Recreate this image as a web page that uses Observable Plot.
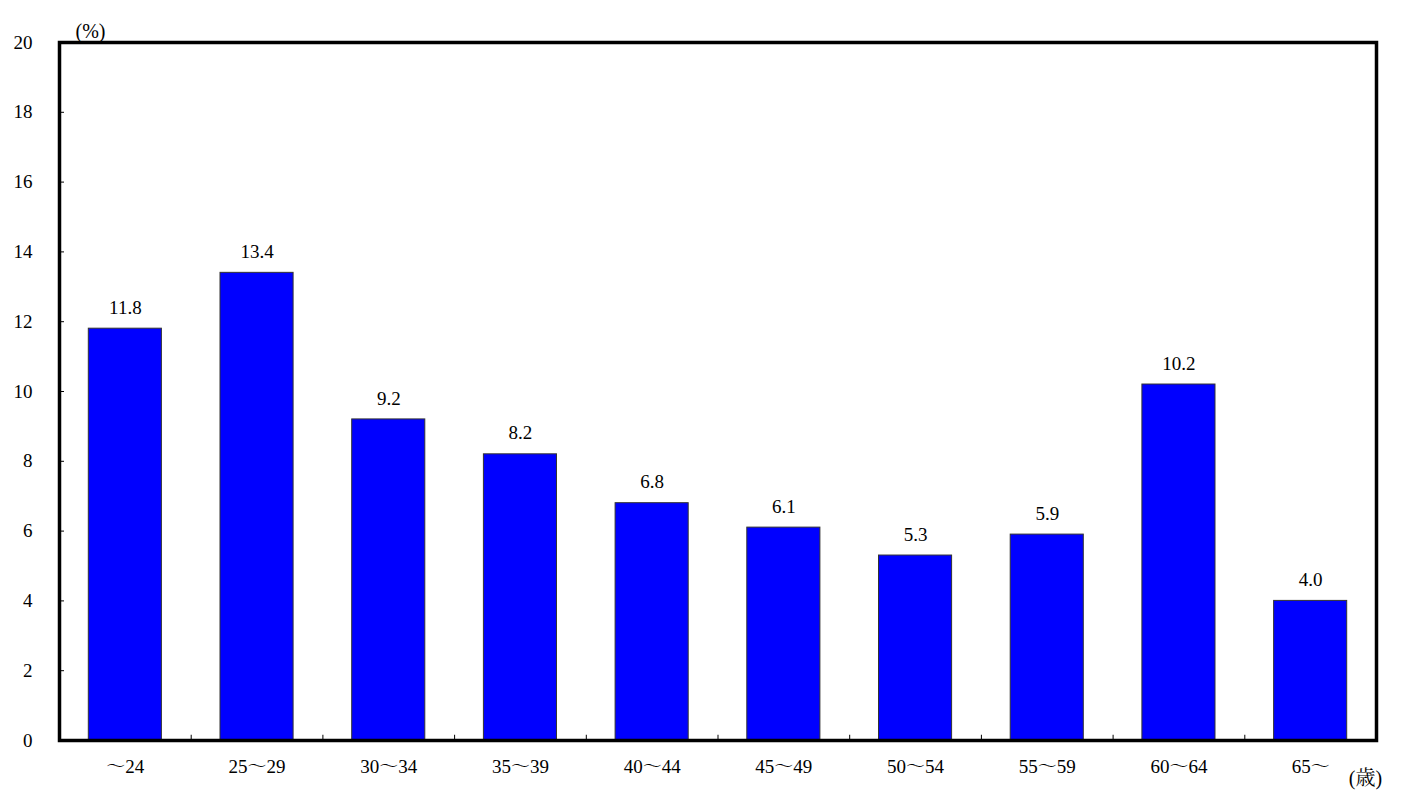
<!DOCTYPE html>
<html>
<head>
<meta charset="utf-8">
<script src="https://cdn.jsdelivr.net/npm/d3@7"></script>
<script src="https://cdn.jsdelivr.net/npm/@observablehq/plot@0.6"></script>
<style>
html,body{margin:0;padding:0;background:#fff;}
</style>
</head>
<body>
<div id="chart"></div>
<script>
const categories = ["〜24","25〜29","30〜34","35〜39","40〜44","45〜49","50〜54","55〜59","60〜64","65〜"];
const values = [11.8,13.4,9.2,8.2,6.8,6.1,5.3,5.9,10.2,4.0];
const yTicks = [0,2,4,6,8,10,12,14,16,18,20];
const yUnit = "(%)";
const xUnit = "(歳)";

const data = categories.map((c,i)=>({cat:c, value:values[i]}));
const W = 1424, H = 802;
const mL = 59, mR = 48, mT = 42, mB = 62;
const step = (W - mL - mR) / categories.length;
const FONT = "Liberation Serif, Noto Serif CJK JP, serif";

const chart = Plot.plot({
  width: W, height: H,
  marginLeft: mL, marginRight: mR, marginTop: mT, marginBottom: mB,
  style: {fontFamily: FONT, fontSize: "18px", color: "#000", background: "#fff"},
  x: {type: "band", domain: categories, paddingInner: 0.445, paddingOuter: 0.2225, round: false, label: null},
  y: {domain: [0,20], ticks: yTicks, label: null},
  marks: [
    Plot.barY(data, {x: "cat", y: "value", fill: "#0000ff", stroke: "#333", strokeWidth: 1}),
    Plot.text(data, {x: "cat", y: "value", text: d => d.value.toFixed(1), dy: -21, fontSize: 19, fontFamily: FONT, letterSpacing: 2, fill: "#000"}),
    Plot.axisY({ticks: yTicks, tickSize: 0, tickPadding: 27, fontSize: 19, fontFamily: FONT, tickFormat: d => String(d)}),
    Plot.axisY({ticks: yTicks, tickSize: -5, text: null, stroke: "#000"}),
    Plot.axisX({tickSize: 0, tickPadding: 19, fontSize: 19, fontFamily: FONT}),
    Plot.ruleX(categories.slice(1), {x: d => d, y1: 0, y2: 0.15, dx: -step/2, stroke: "#000", strokeWidth: 1}),
    Plot.frame({stroke: "#000", strokeWidth: 3.5}),
    Plot.text([yUnit], {frameAnchor: "top-left", text: d => d, textAnchor: "middle", lineAnchor: "middle", dx: 31, dy: -11, fontSize: 20, fontFamily: FONT}),
    Plot.text([xUnit], {frameAnchor: "bottom-right", text: d => d, textAnchor: "middle", lineAnchor: "middle", dx: -11, dy: 38, fontSize: 20, fontFamily: FONT})
  ]
});
chart.setAttribute("font-family", FONT);
chart.querySelectorAll("[font-family]").forEach(el => el.setAttribute("font-family", FONT));
chart.querySelectorAll("text").forEach(el => el.style.fontFamily = FONT);
document.getElementById("chart").appendChild(chart);
</script>
</body>
</html>
